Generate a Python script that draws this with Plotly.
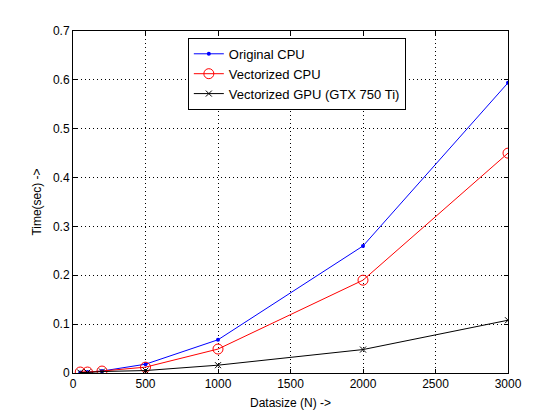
import plotly.graph_objs as go

# data
datasize = [50, 100, 200, 500, 1000, 2000, 3000]
original_cpu = [0.001, 0.002, 0.004, 0.018, 0.068, 0.260, 0.594]
vectorized_cpu = [0.002, 0.002, 0.004, 0.012, 0.049, 0.190, 0.450]
vectorized_gpu = [0.001, 0.001, 0.003, 0.005, 0.016, 0.048, 0.108]

x_ticks = [0, 500, 1000, 1500, 2000, 2500, 3000]
y_ticks = [0, 0.1, 0.2, 0.3, 0.4, 0.5, 0.6, 0.7]
y_labels = ['0', '0.1', '0.2', '0.3', '0.4', '0.5', '0.6', '0.7']

font = dict(family='Liberation Sans, Arial, sans-serif', size=12, color='black')
legend_font = dict(font, size=13)

traces = [
    go.Scatter(x=datasize, y=original_cpu, mode='lines+markers',
               name='Original CPU',
               line=dict(color='#0000ff', width=1),
               marker=dict(symbol='circle', size=4, color='#0000ff')),
    go.Scatter(x=datasize, y=vectorized_cpu, mode='lines+markers',
               name='Vectorized CPU',
               line=dict(color='#ff0000', width=1),
               marker=dict(symbol='circle-open', size=10, color='#ff0000',
                           line=dict(width=1))),
    go.Scatter(x=datasize, y=vectorized_gpu, mode='lines+markers',
               name='Vectorized GPU (GTX 750 Ti)',
               line=dict(color='black', width=1),
               marker=dict(symbol='x-thin-open', size=6, color='black',
                           line=dict(width=1, color='black'))),
]

axis = dict(showline=True, linecolor='black', linewidth=1, mirror='ticks',
            ticks='inside', ticklen=4, tickcolor='black',
            showgrid=True, gridcolor='black', gridwidth=1, griddash='1px,3px',
            zeroline=False, tickfont=font, automargin=False)

# the page body adds an 8px offset, so margins are trimmed to match
layout = go.Layout(
    width=560, height=420,
    margin=dict(l=65, r=60, t=23, b=55),
    paper_bgcolor='white', plot_bgcolor='white',
    font=font,
    xaxis=dict(axis, range=[0, 3000], tickvals=x_ticks,
               title=dict(text='Datasize (N) ->', font=font, standoff=8)),
    yaxis=dict(axis, range=[0, 0.7], tickvals=y_ticks, ticktext=y_labels,
               title=dict(text='Time(sec) ->', font=font, standoff=8)),
    legend=dict(x=0.264, y=0.98, xanchor='left', yanchor='top',
                bgcolor='white', bordercolor='black', borderwidth=1,
                font=legend_font, tracegroupgap=0, itemwidth=30),
    showlegend=True,
)

fig = go.Figure(data=traces, layout=layout)
fig.write_html("out.html")
